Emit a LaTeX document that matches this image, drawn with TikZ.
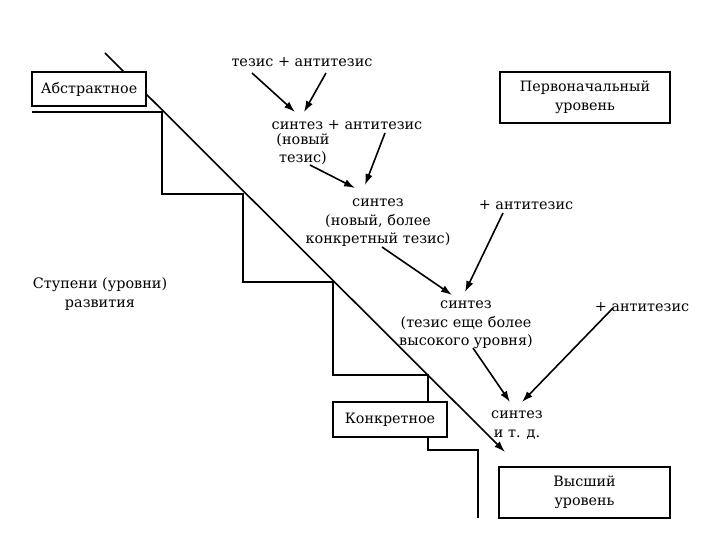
\documentclass[tikz,border=0pt]{standalone}
\usepackage{fontspec}
\setmainfont{DejaVu Serif}
\usetikzlibrary{arrows.meta}
\tikzset{
  txt/.style={inner sep=0pt, align=center, font=\fontsize{14.4}{18.5}\selectfont},
  lvlbox/.style={draw, line width=1.8pt, fill=white, inner sep=0pt, align=center, font=\fontsize{14.3}{19}\selectfont},
  arr/.style={line width=1.6pt, -{Latex[length=11pt,width=7.5pt]}},
  stair/.style={line width=1.6pt}
}
\begin{document}
\begin{tikzpicture}[x=1pt,y=-1pt]
\useasboundingbox (0,0) rectangle (720,540);
% stairs
\draw[stair] (32,112) -- (162,112) -- (162,194) -- (243,194) -- (243,282) -- (333,282) -- (333,375) -- (428,375) -- (428,450) -- (478,450) -- (478,518);
% diagonal
\coordinate (dstart) at (105,53);
\coordinate (dend) at (505,452);
\draw[arr] (dstart) -- (dend);
% boxes
\node[lvlbox, minimum width=114pt, minimum height=34pt] (abs) at (89,89) {Абстрактное};
\node[lvlbox, minimum width=170pt, minimum height=51pt] (perv) at (585,97.5) {Первоначальный\\уровень};
\node[lvlbox, minimum width=114pt, minimum height=35pt] (konk) at (390,419.5) {Конкретное};
\node[lvlbox, minimum width=171pt, minimum height=51pt] (vys) at (584.5,492.5) {Высший\\уровень};
% texts
\node[txt] (t1) at (302,62) {тезис + антитезис};
\node[txt] (s1) at (347,125) {синтез + антитезис};
\node[txt] (n1) at (303,149) {(новый\\тезис)};
\node[txt] (s2) at (378,223) {синтез\\(новый, более\\конкретный тезис)};
\node[txt] (a2) at (526,205) {+ антитезис};
\node[txt] (s3) at (466,325) {синтез\\(тезис еще более\\высокого уровня)};
\node[txt] (a3) at (642,307) {+ антитезис};
\node[txt] (s4) at (517,425) {синтез\\и т. д.};
\node[txt] (lv) at (100,294) {Ступени (уровни)\\развития};
% arrow coordinates
\coordinate (p1a) at (252,73);  \coordinate (p1b) at (295,112);
\coordinate (p2a) at (326,73);  \coordinate (p2b) at (304,112);
\coordinate (p3a) at (385,133); \coordinate (p3b) at (365,185);
\coordinate (p4a) at (310,165); \coordinate (p4b) at (355,188);
\coordinate (p5a) at (503,213); \coordinate (p5b) at (465,292);
\coordinate (p6a) at (382,247); \coordinate (p6b) at (452,295);
\coordinate (p7a) at (613,308); \coordinate (p7b) at (522,402);
\coordinate (p8a) at (473,348); \coordinate (p8b) at (510,402);
\draw[arr] (p1a) -- (p1b);
\draw[arr] (p2a) -- (p2b);
\draw[arr] (p3a) -- (p3b);
\draw[arr] (p4a) -- (p4b);
\draw[arr] (p5a) -- (p5b);
\draw[arr] (p6a) -- (p6b);
\draw[arr] (p7a) -- (p7b);
\draw[arr] (p8a) -- (p8b);
\end{tikzpicture}
\end{document}
